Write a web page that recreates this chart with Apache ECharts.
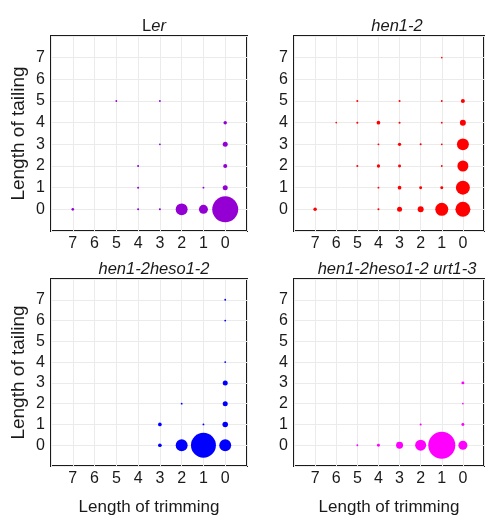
<!DOCTYPE html>
<html><head><meta charset="utf-8">
<script src="https://cdn.jsdelivr.net/npm/echarts@6/dist/echarts.min.js"></script>
<style>html,body{margin:0;padding:0;background:#fff}#c{width:487px;height:517px}</style>
</head><body><div id="c"></div>
<script>
// [trimming, tailing, relative abundance]
const ler = [
  [0,0,100],[1,0,12],[2,0,21],[3,0,0.6],[4,0,0.6],[7,0,1.0],
  [0,1,3.7],[1,1,0.5],[4,1,0.6],
  [0,2,2.4],[4,2,0.6],
  [0,3,3.7],[3,3,0.5],
  [0,4,1.8],
  [3,5,0.5],[5,5,0.5]
];
const hen1 = [
  [0,0,33],[1,0,25],[2,0,5.3],[3,0,3.7],[4,0,0.6],[7,0,1.8],
  [0,1,29],[1,1,1.3],[2,1,1.3],[3,1,2.0],[4,1,0.5],
  [0,2,18],[1,2,0.5],[3,2,1.3],[4,2,1.6],[5,2,0.6],
  [0,3,21],[1,3,0.5],[2,3,0.6],[3,3,1.6],[4,3,0.5],
  [0,4,5.3],[1,4,0.5],[3,4,0.6],[4,4,2.0],[5,4,0.6],[6,4,0.4],
  [0,5,2.4],[1,5,0.5],[3,5,0.6],[5,5,0.6],
  [1,7,0.4]
];
const heso = [
  [0,0,21],[1,0,92],[2,0,21],[3,0,2.0],
  [0,1,4.5],[1,1,0.5],[3,1,2.0],
  [0,2,3.7],[2,2,0.5],
  [0,3,3.7],
  [0,4,0.5],
  [0,6,0.5],
  [0,7,0.5]
];
const urt = [
  [0,0,12],[1,0,108],[2,0,18],[3,0,7.2],[4,0,1.3],[5,0,0.5],
  [0,1,1.3],[2,1,0.6],
  [0,2,0.4],
  [0,3,1.3]
];
const panelTitles = ['Ler','hen1-2','hen1-2heso1-2','hen1-2heso1-2 urt1-3'];
const colors = ['#9400D3','#FF0000','#0000FF','#FF00FF'];
const seriesData = [ler, hen1, heso, urt];
const xTitle = 'Length of trimming';
const yTitle = 'Length of tailing';

const FONT = 'Liberation Sans, Arial, sans-serif';
const lefts = [51, 294, 51, 294];
const tops = [36, 36, 279, 279];
const W = 196, H = 195;

const grids = [], xAxes = [], yAxes = [], series = [], titles = [];
for (let i = 0; i < 4; i++) {
  grids.push({left: lefts[i], top: tops[i], width: W, height: H, show: true,
    borderColor: '#1a1a1a', borderWidth: 2, backgroundColor: '#fff'});
  const bottomRow = i >= 2, leftCol = (i % 2 === 0);
  xAxes.push({type: 'value', gridIndex: i, min: -1, max: 8, interval: 1, inverse: true,
    axisLine: {show: false}, axisTick: {show: false},
    splitLine: {show: true, lineStyle: {color: '#ebebeb', width: 1}},
    axisLabel: {margin: 5, color: '#1a1a1a', fontSize: 16, fontFamily: FONT,
      formatter: v => (v >= 0 && v <= 7) ? String(v) : ''},
    name: bottomRow ? xTitle : '', nameLocation: 'middle', nameGap: 33,
    nameTextStyle: {fontSize: 17, color: '#1a1a1a', fontFamily: FONT}
  });
  yAxes.push({type: 'value', gridIndex: i, min: -1, max: 8, interval: 1,
    axisLine: {show: false}, axisTick: {show: false},
    splitLine: {show: true, lineStyle: {color: '#ebebeb', width: 1}},
    axisLabel: {margin: 6, color: '#1a1a1a', fontSize: 16, fontFamily: FONT,
      formatter: v => (v >= 0 && v <= 7) ? String(v) : ''},
    name: leftCol ? yTitle : '', nameLocation: 'middle', nameGap: 23,
    nameTextStyle: {fontSize: 19, color: '#1a1a1a', fontFamily: FONT}
  });
  series.push({type: 'scatter', xAxisIndex: i, yAxisIndex: i, data: seriesData[i],
    symbolSize: d => Math.max(1.5, Math.sqrt(d[2]) * 2.6),
    itemStyle: {color: colors[i], opacity: 1}, silent: true, animation: false});
  const t = panelTitles[i];
  const text = (i === 0) ? '{n|L}{i|er}' : '{i|' + t + '}';
  titles.push({text: text, left: lefts[i] + W / 2, top: tops[i] - 23, textAlign: 'center',
    textStyle: {fontWeight: 'normal', fontStyle: 'normal', rich: {
      n: {fontSize: 16.5, fontFamily: FONT, fontStyle: 'normal', fontWeight: 'normal', color: '#1a1a1a'},
      i: {fontSize: 16.5, fontFamily: FONT, fontStyle: 'italic', fontWeight: 'normal', color: '#1a1a1a'}
    }}});
}
const chart = echarts.init(document.getElementById('c'), null, {renderer: 'canvas'});
chart.setOption({animation: false, title: titles, grid: grids, xAxis: xAxes, yAxis: yAxes, series: series});
</script></body></html>
